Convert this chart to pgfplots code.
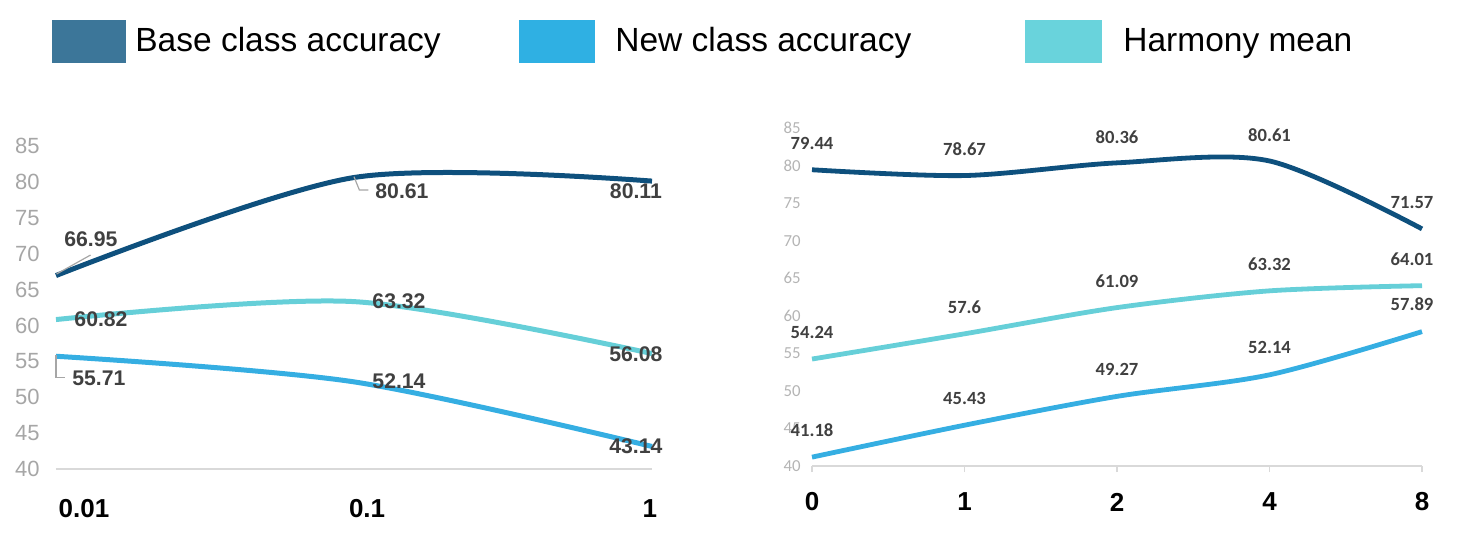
\documentclass[border=0pt]{standalone}
\usepackage{fontspec}
\setmainfont{Liberation Sans}
\newfontfamily\calfont{Carlito}
\usepackage{pgfplots}
\pgfplotsset{compat=1.18}
\definecolor{cbase}{HTML}{0E507D}
\definecolor{cnew}{HTML}{35AEE2}
\definecolor{charm}{HTML}{66CFD8}
\definecolor{lbase}{HTML}{3C7699}
\definecolor{lnew}{HTML}{2FB0E3}
\definecolor{lharm}{HTML}{69D3DC}
\definecolor{lblc}{HTML}{404040}
\definecolor{tickc}{HTML}{A6A6A6}
\definecolor{rtickc}{HTML}{B4B4B4}
\definecolor{axc}{HTML}{D9D9D9}
\begin{document}
\begin{tikzpicture}
\useasboundingbox (0,0) rectangle (730.5pt,273.5pt);
\tikzset{
  legtxt/.style={anchor=base west, inner sep=0pt, font=\fontsize{16.75}{18}\selectfont},
  lbl/.style={inner sep=0pt, text=lblc, font=\bfseries\fontsize{10.6}{12}\selectfont},
  rlbl/.style={inner sep=0pt, text=lblc, font=\calfont\bfseries\fontsize{9.3}{11}\selectfont},
  lead/.style={draw=tickc, line width=0.6pt},
}
% legend
\fill[lbase] (26pt,242pt) rectangle (63pt,263.5pt);
\node[legtxt] at (67.5pt,247.5pt) {Base class accuracy};
\fill[lnew] (259.5pt,242pt) rectangle (297.5pt,263.5pt);
\node[legtxt] at (307.5pt,247.5pt) {New class accuracy};
\fill[lharm] (512.5pt,242pt) rectangle (551pt,263.5pt);
\node[legtxt] at (561.5pt,247.5pt) {Harmony mean};

% left panel
\begin{axis}[
  at={(28pt,39pt)}, anchor=south west, scale only axis,
  width=298pt, height=161.5pt,
  xmin=0, xmax=2, ymin=40, ymax=85,
  axis x line*=bottom, axis y line*=left,
  x axis line style={draw=axc, line width=0.8pt, -},
  y axis line style={draw=none},
  xtick={0.094,1.044,1.993}, xticklabels={0.01,0.1,1},
  ytick={40,45,...,85},
  major tick length=0pt,
  tick style={draw=none},
  /pgf/number format/assume math mode=true,
  yticklabel style={font=\fontsize{11}{12}\selectfont, text=tickc, anchor=east, inner sep=0pt, xshift=-8pt},
  xticklabel style={font=\bfseries\fontsize{13}{14}\selectfont, anchor=center, inner sep=0pt, yshift=-20pt},
  clip=false,
]
\addplot[cbase, line width=2.5pt, smooth] coordinates {(0,66.95) (1,80.61) (2,80.11)};
\addplot[charm, line width=2.5pt, smooth] coordinates {(0,60.82) (1,63.32) (2,56.08)};
\addplot[cnew, line width=2.5pt, smooth] coordinates {(0,55.71) (1,52.14) (2,43.14)};
\draw[lead] (axis cs:0.002,67.17) -- (axis cs:0.116,69.81);
\draw[lead] (axis cs:1.0,80.72) -- (axis cs:1.018,78.87) -- (axis cs:1.048,78.87);
\draw[lead] (axis cs:0,55.88) -- (axis cs:0,52.72) -- (axis cs:0.030,52.72);
\node[lbl] at (axis cs:0.117,72.04) {66.95};
\node[lbl] at (axis cs:1.161,78.73) {80.61};
\node[lbl] at (axis cs:1.946,78.73) {80.11};
\node[lbl] at (axis cs:0.151,60.90) {60.82};
\node[lbl] at (axis cs:1.151,63.40) {63.32};
\node[lbl] at (axis cs:1.946,56.02) {56.08};
\node[lbl] at (axis cs:0.144,52.68) {55.71};
\node[lbl] at (axis cs:1.151,52.26) {52.14};
\node[lbl] at (axis cs:1.946,43.20) {43.14};
\end{axis}

% right panel
\begin{axis}[
  at={(406pt,40.5pt)}, anchor=south west, scale only axis,
  width=305pt, height=169pt,
  xmin=0, xmax=4, ymin=40, ymax=85,
  axis x line*=bottom, axis y line*=left,
  x axis line style={draw=axc, line width=0.8pt, -},
  y axis line style={draw=none},
  xtick={0,1,2,3,4}, xticklabels={0,1,2,4,8},
  ytick={40,45,...,85},
  tick align=outside,
  major tick length=3pt,
  xtick style={draw=axc, line width=0.8pt},
  ytick style={draw=none},
  /pgf/number format/assume math mode=true,
  yticklabel style={font=\calfont\fontsize{8.4}{10}\selectfont, text=rtickc, anchor=east, inner sep=0pt, xshift=-2.5pt},
  xticklabel style={font=\bfseries\fontsize{13}{14}\selectfont, anchor=center, inner sep=0pt, yshift=-15pt},
  clip=false,
]
\addplot[cbase, line width=2.4pt, smooth] coordinates {(0,79.44) (1,78.67) (2,80.36) (3,80.61) (4,71.57)};
\addplot[charm, line width=2.4pt, smooth] coordinates {(0,54.24) (1,57.6) (2,61.09) (3,63.32) (4,64.01)};
\addplot[cnew, line width=2.4pt, smooth] coordinates {(0,41.18) (1,45.43) (2,49.27) (3,52.14) (4,57.89)};
\node[rlbl, yshift=13pt] at (axis cs:0,79.44) {79.44};
\node[rlbl, yshift=13pt] at (axis cs:1,78.67) {78.67};
\node[rlbl, yshift=13pt] at (axis cs:2,80.36) {80.36};
\node[rlbl, yshift=13pt] at (axis cs:3,80.61) {80.61};
\node[rlbl, yshift=13pt, xshift=-5pt] at (axis cs:4,71.57) {71.57};
\node[rlbl, yshift=13.3pt] at (axis cs:0,54.24) {54.24};
\node[rlbl, yshift=13.3pt] at (axis cs:1,57.6) {57.6};
\node[rlbl, yshift=13.3pt] at (axis cs:2,61.09) {61.09};
\node[rlbl, yshift=13.3pt] at (axis cs:3,63.32) {63.32};
\node[rlbl, yshift=13.3pt, xshift=-5pt] at (axis cs:4,64.01) {64.01};
\node[rlbl, yshift=13.5pt] at (axis cs:0,41.18) {41.18};
\node[rlbl, yshift=13.5pt] at (axis cs:1,45.43) {45.43};
\node[rlbl, yshift=13.5pt] at (axis cs:2,49.27) {49.27};
\node[rlbl, yshift=13.5pt] at (axis cs:3,52.14) {52.14};
\node[rlbl, yshift=13.5pt, xshift=-5pt] at (axis cs:4,57.89) {57.89};
\end{axis}
\end{tikzpicture}
\end{document}
